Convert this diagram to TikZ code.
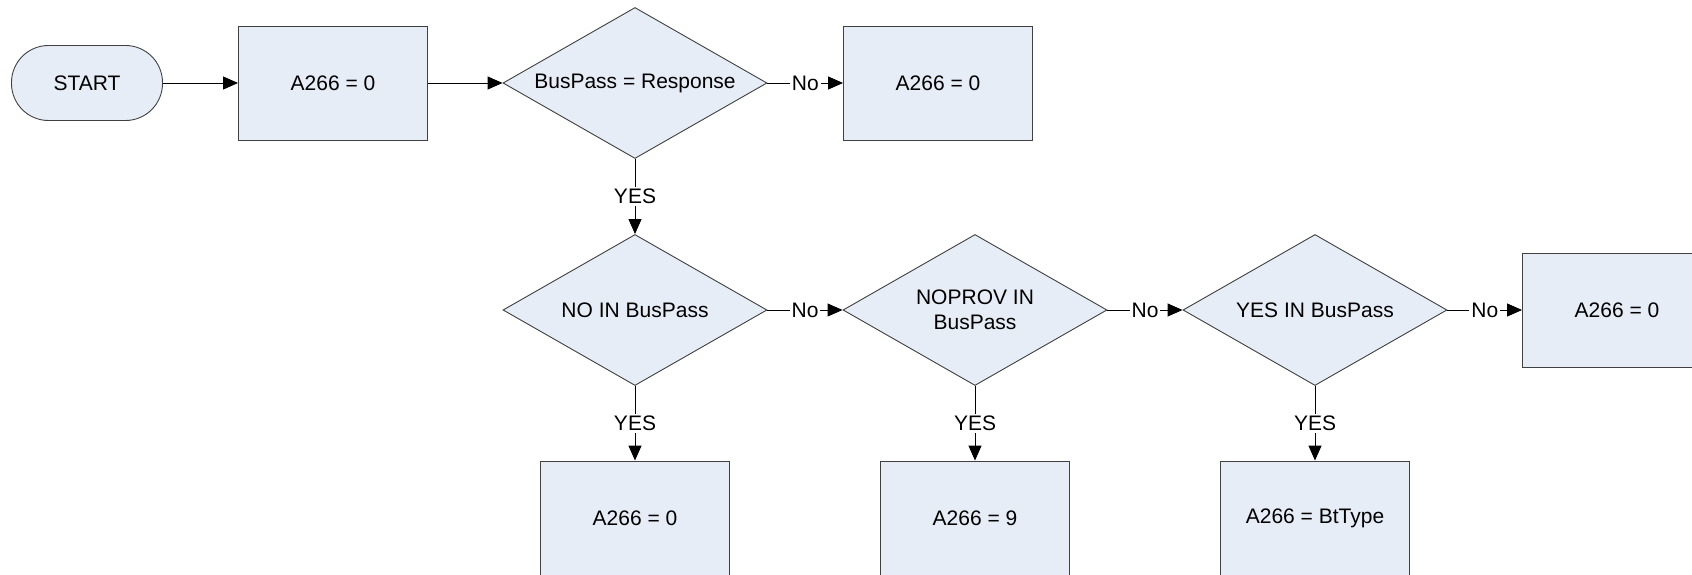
\documentclass[tikz,border=0pt]{standalone}
\usepackage{fontspec}
\setmainfont{Liberation Sans}
\usetikzlibrary{arrows.meta,shapes.geometric}
\definecolor{boxfill}{HTML}{E7EDF7}
\definecolor{edge}{HTML}{404040}
\definecolor{ink}{HTML}{000000}
\newcommand{\chartfont}{\fontsize{21}{25}\selectfont}

\begin{document}
\begin{tikzpicture}[x=1pt,y=-1pt,font=\chartfont,
  proc/.style={draw=edge,fill=boxfill,line width=0.9pt,minimum width=189pt,minimum height=114pt,inner sep=0},
  test/.style={diamond,aspect=1.75,draw=edge,fill=boxfill,line width=0.9pt,minimum width=264pt,minimum height=151pt,inner sep=0,align=center},
  term/.style={draw=edge,fill=boxfill,line width=0.9pt,rounded corners=37pt,minimum width=151pt,minimum height=75pt,inner sep=0},
  flow/.style={ink,line width=0.9pt,-{Triangle[length=15pt,width=13pt]}},
  lbl/.style={fill=white,inner sep=2pt}]
\useasboundingbox (0,0) rectangle (1692,575);
\clip (0,0) rectangle (1692,575);
% top row
\node[term] (start) at (87,83) {START};
\node[proc] (init) at (333,83) {A266 = 0};
\node[test] (resp) at (635,83) {BusPass = Response};
\node[proc] (noresp) at (938,83) {A266 = 0};
% tests
\node[test] (tno) at (635,310) {NO IN BusPass};
\node[test] (tnoprov) at (975,310) {NOPROV IN\\BusPass};
\node[test] (tyes) at (1315,310) {YES IN BusPass};
\node[proc] (other) at (1617,310) {A266 = 0};
% results
\node[proc] (rno) at (635,518) {A266 = 0};
\node[proc] (rnoprov) at (975,518) {A266 = 9};
\node[proc] (ryes) at (1315,518) {A266 = BtType};
% connectors
\draw[flow] (start) -- (init);
\draw[flow] (init) -- (resp);
\draw[flow] (resp) -- node[lbl] {No} (noresp);
\draw[flow] (resp) -- node[lbl] {YES} (tno);
\draw[flow] (tno) -- node[lbl] {No} (tnoprov);
\draw[flow] (tnoprov) -- node[lbl] {No} (tyes);
\draw[flow] (tyes) -- node[lbl] {No} (other);
\draw[flow] (tno) -- node[lbl] {YES} (rno);
\draw[flow] (tnoprov) -- node[lbl] {YES} (rnoprov);
\draw[flow] (tyes) -- node[lbl] {YES} (ryes);
\end{tikzpicture}
\end{document}
